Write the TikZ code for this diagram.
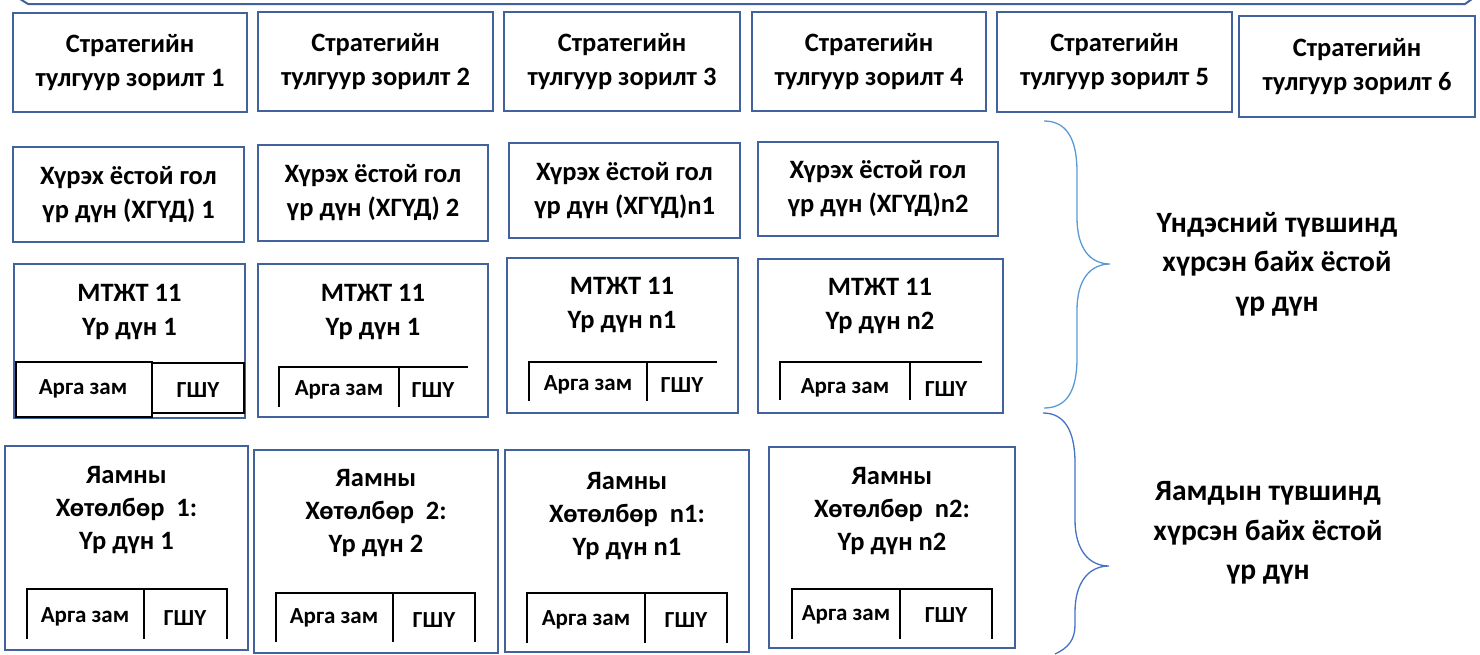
\documentclass[tikz,border=0pt]{standalone}
\usepackage{fontspec}
\setmainfont{Carlito}
\definecolor{boxblue}{RGB}{66,98,158}
\definecolor{bracelight}{RGB}{91,155,213}
\definecolor{bracedark}{RGB}{68,114,196}
\tikzset{
  bx/.style={draw=boxblue, line width=2pt, inner sep=0pt},
  tx/.style={font=\bfseries\fontsize{26.5}{34}\selectfont, align=center, inner sep=0pt},
  tx3/.style={font=\bfseries\fontsize{26.5}{33}\selectfont, align=center, inner sep=0pt},
  sm/.style={font=\bfseries\fontsize{23}{25}\selectfont, inner sep=0pt},
  rt/.style={font=\bfseries\fontsize{29.5}{39.5}\selectfont, align=center, inner sep=0pt},
  tl/.style={line width=1.5pt, black},
  br/.style={line width=1.3pt},
}
\newcommand\mybox[7][]{\node[bx,#1,minimum width={#5-#3},minimum height={#6-#4}] (#2) at ({(#3+#5)/2},{(#4+#6)/2}) {#7};}
\begin{document}
\begin{tikzpicture}[x=1pt,y=-1pt]
\useasboundingbox (0,0) rectangle (1480,654);
% top edge
\draw[boxblue, line width=2pt] (20,-1) -- (28,4) -- (1465,4) -- (1472,-1);
% row 1
\mybox[tx]{s1}{13}{13}{247}{112}{Стратегийн\\тулгуур зорилт 1}
\mybox[tx]{s2}{258}{12}{493}{111}{Стратегийн\\тулгуур зорилт 2}
\mybox[tx]{s3}{504}{12}{740}{111}{Стратегийн\\тулгуур зорилт 3}
\mybox[tx]{s4}{752}{12}{986}{111}{Стратегийн\\тулгуур зорилт 4}
\mybox[tx]{s5}{997}{12}{1232}{112}{Стратегийн\\тулгуур зорилт 5}
\mybox[tx]{s6}{1239}{16}{1475}{117}{Стратегийн\\тулгуур зорилт 6}
% row 2
\mybox[tx]{h1}{13}{147}{244}{242}{Хүрэх ёстой гол\\үр дүн (ХГҮД) 1}
\mybox[tx]{h2}{258}{145}{488}{241}{Хүрэх ёстой гол\\үр дүн (ХГҮД) 2}
\mybox[tx]{h3}{509}{143}{740}{238}{Хүрэх ёстой гол\\үр дүн (ХГҮД)n1}
\mybox[tx]{h4}{758}{142}{998}{236}{Хүрэх ёстой гол\\үр дүн (ХГҮД)n2}
% row 3
\mybox{m1}{14}{264}{245}{418}{}
\mybox{m2}{258}{264}{488}{417}{}
\mybox{m3}{507}{258}{738}{413}{}
\mybox{m4}{758}{259}{1003}{413}{}
\node[tx] (m1t) at (129.5,312) {МТЖТ 11\\Үр дүн 1};
\node[tx] (m2t) at (373,312) {МТЖТ 11\\Үр дүн 1};
\node[tx] (m3t) at (622,305) {МТЖТ 11\\Үр дүн n1};
\node[tx] (m4t) at (880,306) {МТЖТ 11\\Үр дүн n2};
\draw[tl] (16,362) rectangle (152,417);
\draw[tl] (152,363) rectangle (244,413);
\draw[tl] (279,407) -- (279,367) -- (468,367) (399,367) -- (399,407);
\draw[tl] (529,401) -- (529,362) -- (717,362) (647,362) -- (647,401);
\draw[tl] (780,400) -- (780,362) -- (982,362) (910,362) -- (910,400);
\node[sm] (m1a) at (83,389) {Арга зам};
\node[sm] (m1g) at (198,390) {ГШҮ};
\node[sm] (m2a) at (339,390) {Арга зам};
\node[sm] (m2g) at (433,390) {ГШҮ};
\node[sm] (m3a) at (588,385) {Арга зам};
\node[sm] (m3g) at (682,385) {ГШҮ};
\node[sm] (m4a) at (845,388) {Арга зам};
\node[sm] (m4g) at (946,389) {ГШҮ};
% row 4
\mybox{y1}{5}{446}{248}{650}{}
\mybox{y2}{254}{450}{498}{653}{}
\mybox{y3}{505}{450}{749}{652}{}
\mybox{y4}{769}{447}{1015}{648}{}
\node[tx3] (y1t) at (126.5,510) {Яамны\\Хөтөлбөр\ \ 1:\\Үр дүн 1};
\node[tx3] (y2t) at (376,513) {Яамны\\Хөтөлбөр\ \ 2:\\Үр дүн 2};
\node[tx3] (y3t) at (627,516) {Яамны\\Хөтөлбөр\ \ n1:\\Үр дүн n1};
\node[tx3] (y4t) at (892,511) {Яамны\\Хөтөлбөр\ \ n2:\\Үр дүн n2};
\draw[tl] (27,639) -- (27,589) -- (227,589) -- (227,639) (144,589) -- (144,639);
\draw[tl] (276,642) -- (276,593) -- (475,593) -- (475,642) (393,593) -- (393,642);
\draw[tl] (527,643) -- (527,593) -- (727,593) -- (727,643) (645,593) -- (645,643);
\draw[tl] (792,639) -- (792,589) -- (992,589) -- (992,639) (900,589) -- (900,639);
\node[sm] (y1a) at (85,617) {Арга зам};
\node[sm] (y1g) at (185,618) {ГШҮ};
\node[sm] (y2a) at (334,618) {Арга зам};
\node[sm] (y2g) at (434,620) {ГШҮ};
\node[sm] (y3a) at (586,620) {Арга зам};
\node[sm] (y3g) at (686,620) {ГШҮ};
\node[sm] (y4a) at (846,615) {Арга зам};
\node[sm] (y4g) at (946,615) {ГШҮ};
% braces
\draw[bracelight, br] (1044,121) .. controls (1066,121) and (1077,138) .. (1077,172) -- (1077,218)
  .. controls (1077,248) and (1090,264) .. (1110,264)
  .. controls (1090,264) and (1077,280) .. (1077,310) -- (1077,358)
  .. controls (1077,392) and (1066,408) .. (1044,408);
\draw[bracedark, br] (1043,413) .. controls (1064,413) and (1075,430) .. (1075,463) -- (1075,520)
  .. controls (1075,550) and (1089,566) .. (1109,566)
  .. controls (1089,566) and (1075,582) .. (1075,612) -- (1075,625)
  .. controls (1075,640) and (1068,648) .. (1055,654);
% right labels
\node[rt] (lvl1) at (1277,264) {Үндэсний түвшинд\\хүрсэн байх ёстой\\үр дүн};
\node[rt] (lvl2) at (1268,533) {Яамдын түвшинд\\хүрсэн байх ёстой\\үр дүн};
\end{tikzpicture}
\end{document}
